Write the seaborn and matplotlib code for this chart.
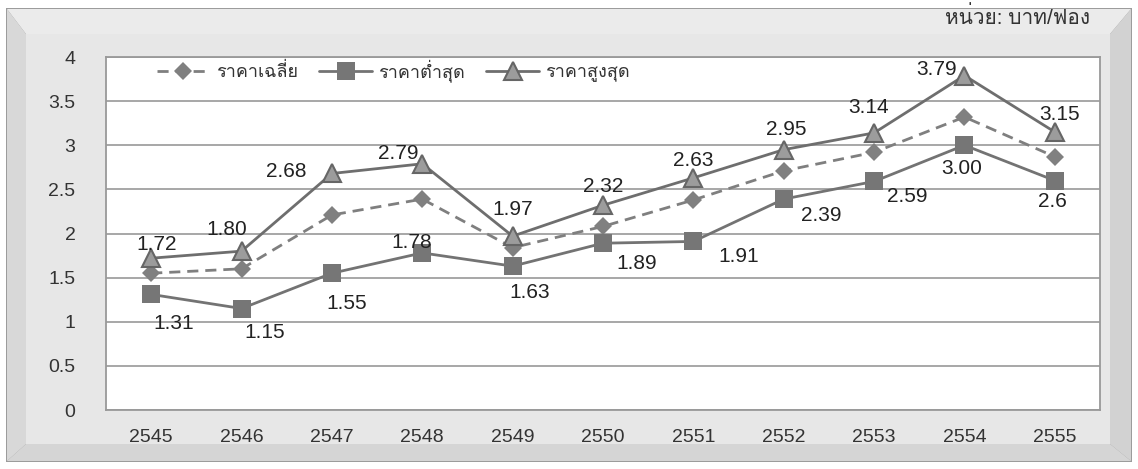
import matplotlib
matplotlib.use("Agg")
import matplotlib.pyplot as plt
from matplotlib import font_manager
from matplotlib.ft2font import FT2Font
from matplotlib.patches import Polygon
import pandas as pd
import seaborn as sns

years = ["2545", "2546", "2547", "2548", "2549", "2550", "2551", "2552", "2553", "2554", "2555"]
avg_price = [1.55, 1.60, 2.21, 2.39, 1.84, 2.08, 2.38, 2.71, 2.92, 3.32, 2.87]
min_price = [1.31, 1.15, 1.55, 1.78, 1.63, 1.89, 1.91, 2.39, 2.59, 3.00, 2.60]
max_price = [1.72, 1.80, 2.68, 2.79, 1.97, 2.32, 2.63, 2.95, 3.14, 3.79, 3.15]
min_labels = ["1.31", "1.15", "1.55", "1.78", "1.63", "1.89", "1.91", "2.39", "2.59", "3.00", "2.6"]
max_labels = ["1.72", "1.80", "2.68", "2.79", "1.97", "2.32", "2.63", "2.95", "3.14", "3.79", "3.15"]
series_names = ["ราคาเฉลี่ย", "ราคาต่ำสุด", "ราคาสูงสุด"]
unit_text = "หน่วย: บาท/ฟอง"

# label offsets in pixels (dx, dy)
max_offsets = [(5, 14), (-15, 22), (-46, 2), (-24, 10), (0, 27), (0, 19), (0, 17),
               (3, 20), (-6, 25), (-28, 6), (5, 18)]
min_offsets = [(23, -29), (23, -24), (15, -30), (-11, 10), (17, -26), (34, -20),
               (45, -15), (38, -16), (33, -15), (-3, -23), (-2, -21)]

W, H = 1138, 469


def find_thai_font():
    for f in font_manager.fontManager.ttflist:
        try:
            ft = FT2Font(f.fname)
            if ft.get_char_index(ord("ร")) and ft.get_char_index(ord("ฟ")):
                return f.name
        except Exception:
            pass
    return None


def frame_poly(fig, pts, color, z):
    # pts in pixel coords, y measured from the top
    xy = [(x / W, 1 - y / H) for x, y in pts]
    fig.patches.append(Polygon(xy, closed=True, transform=fig.transFigure,
                               facecolor=color, edgecolor="none", zorder=z))


sns.set_style("white")
thai = find_thai_font()
fams = ["Liberation Sans"] + ([thai] if thai else []) + ["DejaVu Sans"]
plt.rcParams["font.family"] = fams

df = pd.DataFrame({"year": years, "avg": avg_price, "min": min_price, "max": max_price})

fig = plt.figure(figsize=(11.38, 4.69), dpi=100)
fig.patch.set_facecolor("white")

# bevelled grey frame behind the chart
o = (6, 8, 1132, 462)
i_ = (26, 34, 1110, 444)
frame_poly(fig, [(o[0], o[1]), (o[2], o[1]), (o[2], o[3]), (o[0], o[3])], "#9c9c9c", -12)
o = (7, 9, 1131, 461)
frame_poly(fig, [(o[0], o[1]), (o[2], o[1]), (i_[2], i_[1]), (i_[0], i_[1])], "#ebebeb", -11)
frame_poly(fig, [(o[0], o[1]), (i_[0], i_[1]), (i_[0], i_[3]), (o[0], o[3])], "#d8d8d8", -11)
frame_poly(fig, [(o[2], o[1]), (o[2], o[3]), (i_[2], i_[3]), (i_[2], i_[1])], "#d2d2d2", -11)
frame_poly(fig, [(o[0], o[3]), (i_[0], i_[3]), (i_[2], i_[3]), (o[2], o[3])], "#d5d5d5", -11)
frame_poly(fig, [(i_[0], i_[1]), (i_[2], i_[1]), (i_[2], i_[3]), (i_[0], i_[3])], "#e7e7e7", -11)

ax = fig.add_axes([106 / W, 1 - 410 / H, (1100 - 106) / W, (410 - 57) / H])
ax.set_facecolor("white")

sns.lineplot(data=df, x="year", y="avg", ax=ax, color="#7f7f7f", lw=2,
             linestyle=(0, (4, 2.5)), marker="D", markersize=9, markeredgewidth=0,
             markerfacecolor="#808080", label=series_names[0])
sns.lineplot(data=df, x="year", y="min", ax=ax, color="#737373", lw=2,
             marker="s", markersize=13, markeredgewidth=0,
             markerfacecolor="#767676", label=series_names[1])
sns.lineplot(data=df, x="year", y="max", ax=ax, color="#6e6e6e", lw=2,
             marker="^", markersize=13, markeredgewidth=1.5, markeredgecolor="#666666",
             markerfacecolor="#9c9c9c", label=series_names[2])

for i in range(len(years)):
    ax.annotate(max_labels[i], (i, max_price[i]), xytext=max_offsets[i],
                textcoords="offset pixels", ha="center", va="center",
                fontsize=15, color="#222222")
    ax.annotate(min_labels[i], (i, min_price[i]), xytext=min_offsets[i],
                textcoords="offset pixels", ha="center", va="center",
                fontsize=15, color="#222222")

ax.set_xlim(-0.5, len(years) - 0.5)
ax.set_ylim(0, 4)
ax.set_yticks([0, 0.5, 1, 1.5, 2, 2.5, 3, 3.5, 4])
ax.set_yticklabels(["0", "0.5", "1", "1.5", "2", "2.5", "3", "3.5", "4"])
ax.yaxis.grid(True, color="#a0a0a0", lw=1.3)
ax.xaxis.grid(False)
ax.set_axisbelow(True)
ax.tick_params(axis="both", length=0, labelsize=14, colors="#333333")
ax.tick_params(axis="x", pad=14)
ax.tick_params(axis="y", pad=22)
ax.set_xlabel("")
ax.set_ylabel("")
for s in ax.spines.values():
    s.set_visible(True)
    s.set_color("#999999")
    s.set_linewidth(1.3)

ax.legend(loc="upper left", bbox_to_anchor=(0.035, 1.04), ncol=3, frameon=False,
          fontsize=13, handlelength=2.9, columnspacing=1.2, handletextpad=0.35,
          numpoints=1, labelcolor="#333333")

fig.text(1090 / W, 1 - 17 / H, unit_text, ha="right", va="center",
         fontsize=15, color="#333333")

fig.savefig("out.png", dpi=100, facecolor=fig.get_facecolor())
